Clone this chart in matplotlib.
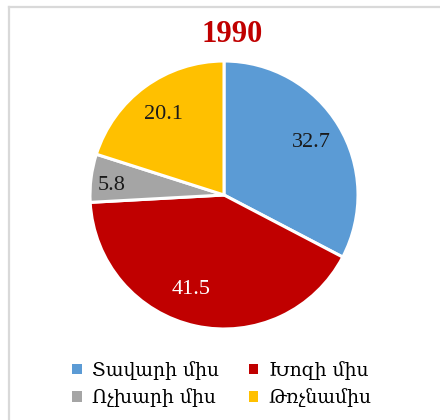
import matplotlib
matplotlib.use("Agg")
import matplotlib.pyplot as plt
import numpy as np
from matplotlib.patches import Patch
from matplotlib.lines import Line2D

categories = ["Տավարի միս", "Խոզի միս", "Ոչխարի միս", "Թռչնամիս"]
values = [32.7, 41.5, 5.8, 20.1]
labels = ["32.7", "41.5", "5.8", "20.1"]
colors = ["#5B9BD5", "#C00000", "#A5A5A5", "#FFC000"]
label_colors = ["#1a1a1a", "white", "#1a1a1a", "#1a1a1a"]
label_radius = [0.76, 0.75, 0.84, 0.75]
label_angle_shift = [0, -7, 2.5, 1]
title = "1990"

fonts = ["Liberation Serif", "DejaVu Serif", "DejaVu Sans"]
plt.rcParams["font.family"] = fonts

W, H = 440, 420
fig = plt.figure(figsize=(W / 100, H / 100), dpi=100)

# frame (only top and left edges visible)
fig.add_artist(Line2D([9 / W, 1], [1 - 7 / H, 1 - 7 / H], transform=fig.transFigure,
                      color="#D9D9D9", linewidth=1.6))
fig.add_artist(Line2D([9 / W, 9 / W], [0, 1 - 7 / H], transform=fig.transFigure,
                      color="#D9D9D9", linewidth=1.6))

cx, cy, r = 224, 420 - 195, 134
ax = fig.add_axes([(cx - r) / W, (cy - r) / H, 2 * r / W, 2 * r / H])
wedges, _ = ax.pie(values, colors=colors, startangle=90, counterclock=False,
                   radius=1, wedgeprops=dict(edgecolor="white", linewidth=2.2))
ax.set_xlim(-1, 1)
ax.set_ylim(-1, 1)
ax.set_aspect("equal")
ax.axis("off")

for w, lab, lc, lr, sh in zip(wedges, labels, label_colors, label_radius, label_angle_shift):
    ang = np.deg2rad((w.theta1 + w.theta2) / 2 + sh)
    ax.text(lr * np.cos(ang), lr * np.sin(ang), lab, ha="center", va="center",
            fontsize=16, color=lc)

fig.text(232 / W, 1 - 35 / H, title, ha="center", va="center",
         fontsize=22, fontweight="bold", color="#C00000")

handles = [Patch(facecolor=c, edgecolor="none") for c in colors]
order = [0, 2, 1, 3]
fig.legend([handles[i] for i in order], [categories[i] for i in order],
           ncol=2, loc="center", bbox_to_anchor=(222 / W, 1 - 384 / H),
           frameon=False, handlelength=0.5, handleheight=0.5,
           handletextpad=0.55, columnspacing=1.6, labelspacing=0.45,
           prop={"family": ["DejaVu Serif", "DejaVu Sans"], "size": 13.5})

fig.savefig("out.png", dpi=100)
